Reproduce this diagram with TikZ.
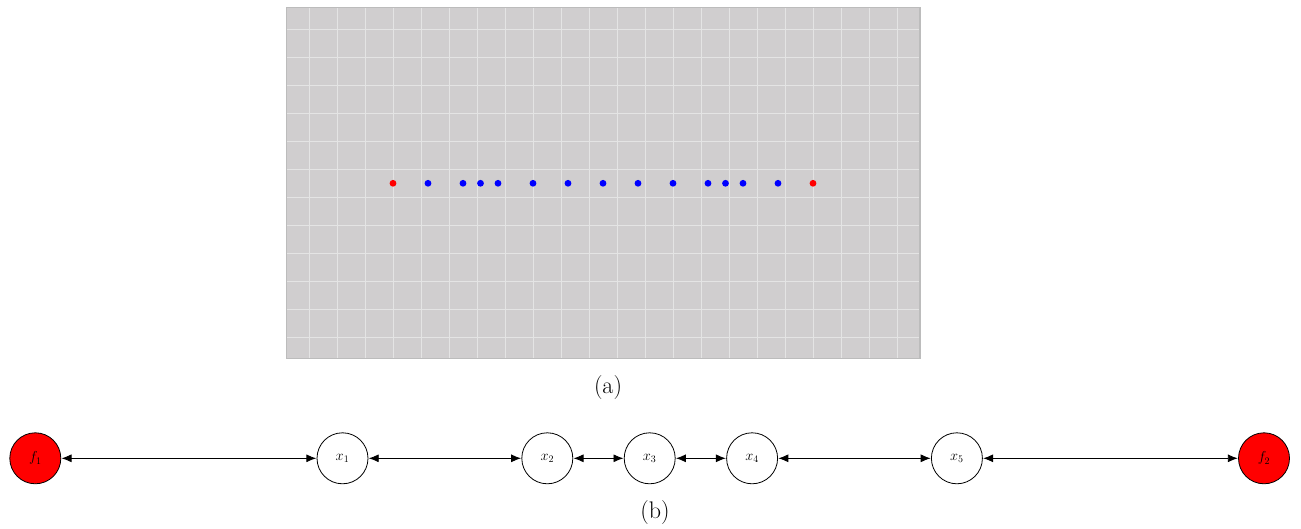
\documentclass[tikz,border=0pt]{standalone}
\usetikzlibrary{arrows.meta}
\definecolor{gridbg}{RGB}{208,206,207}
\definecolor{gridln}{RGB}{228,228,228}
\definecolor{gridbd}{RGB}{188,188,188}
\tikzset{
  x=1pt, y=-1pt,
  nd/.style={circle, draw=black, line width=0.8pt, minimum size=51pt, inner sep=0pt, font=\fontsize{14}{16}\selectfont},
  fnd/.style={nd, fill=red},
  xnd/.style={nd, fill=white},
  link/.style={{Latex[length=10pt,width=8pt]}-{Latex[length=10pt,width=8pt]}, line width=0.9pt, shorten <=0.3pt, shorten >=0.3pt},
  captxt/.style={font=\fontsize{24}{28}\selectfont, inner sep=0pt, anchor=base},
  bdot/.style={fill=blue},
  rdot/.style={fill=red}
}
\begin{document}
\begin{tikzpicture}
\useasboundingbox (0,0) rectangle (1301,529);
% panel (a)
\fill[gridbg] (286.3,7.3) rectangle (920,358.7);
\foreach \k in {0,...,21} {
  \draw[gridln, line width=1pt] ({309.3+28*\k},7.3) -- ({309.3+28*\k},358.7);
}
\foreach \k in {0,...,11} {
  \draw[gridln, line width=1pt] (286.3,{29.3+28*\k}) -- (920,{29.3+28*\k});
}
\draw[gridbd, line width=1.3pt] (286.3,7.3) rectangle (920,358.7);
\foreach \k in {1,2,2.5,3,4,5,6,7,8,9,9.5,10,11} {
  \fill[bdot] ({393+35*\k},183.3) circle (3.4);
}
\fill[rdot] (393,183.3) circle (3.4);
\fill[rdot] (813,183.3) circle (3.4);
\node[captxt] (capa) at (608,393) {(a)};
% panel (b)
\node[fnd] (f1) at (35.3,458.3) {$f_1$};
\node[xnd] (x1) at (342.5,458.3) {$x_1$};
\node[xnd] (x2) at (547.3,458.3) {$x_2$};
\node[xnd] (x3) at (649.7,458.3) {$x_3$};
\node[xnd] (x4) at (752.1,458.3) {$x_4$};
\node[xnd] (x5) at (956.9,458.3) {$x_5$};
\node[fnd] (f2) at (1264,458.3) {$f_2$};
\draw[link] (f1) -- (x1);
\draw[link] (x1) -- (x2);
\draw[link] (x2) -- (x3);
\draw[link] (x3) -- (x4);
\draw[link] (x4) -- (x5);
\draw[link] (x5) -- (f2);
\node[captxt] (capb) at (655,518) {(b)};
\end{tikzpicture}
\end{document}
